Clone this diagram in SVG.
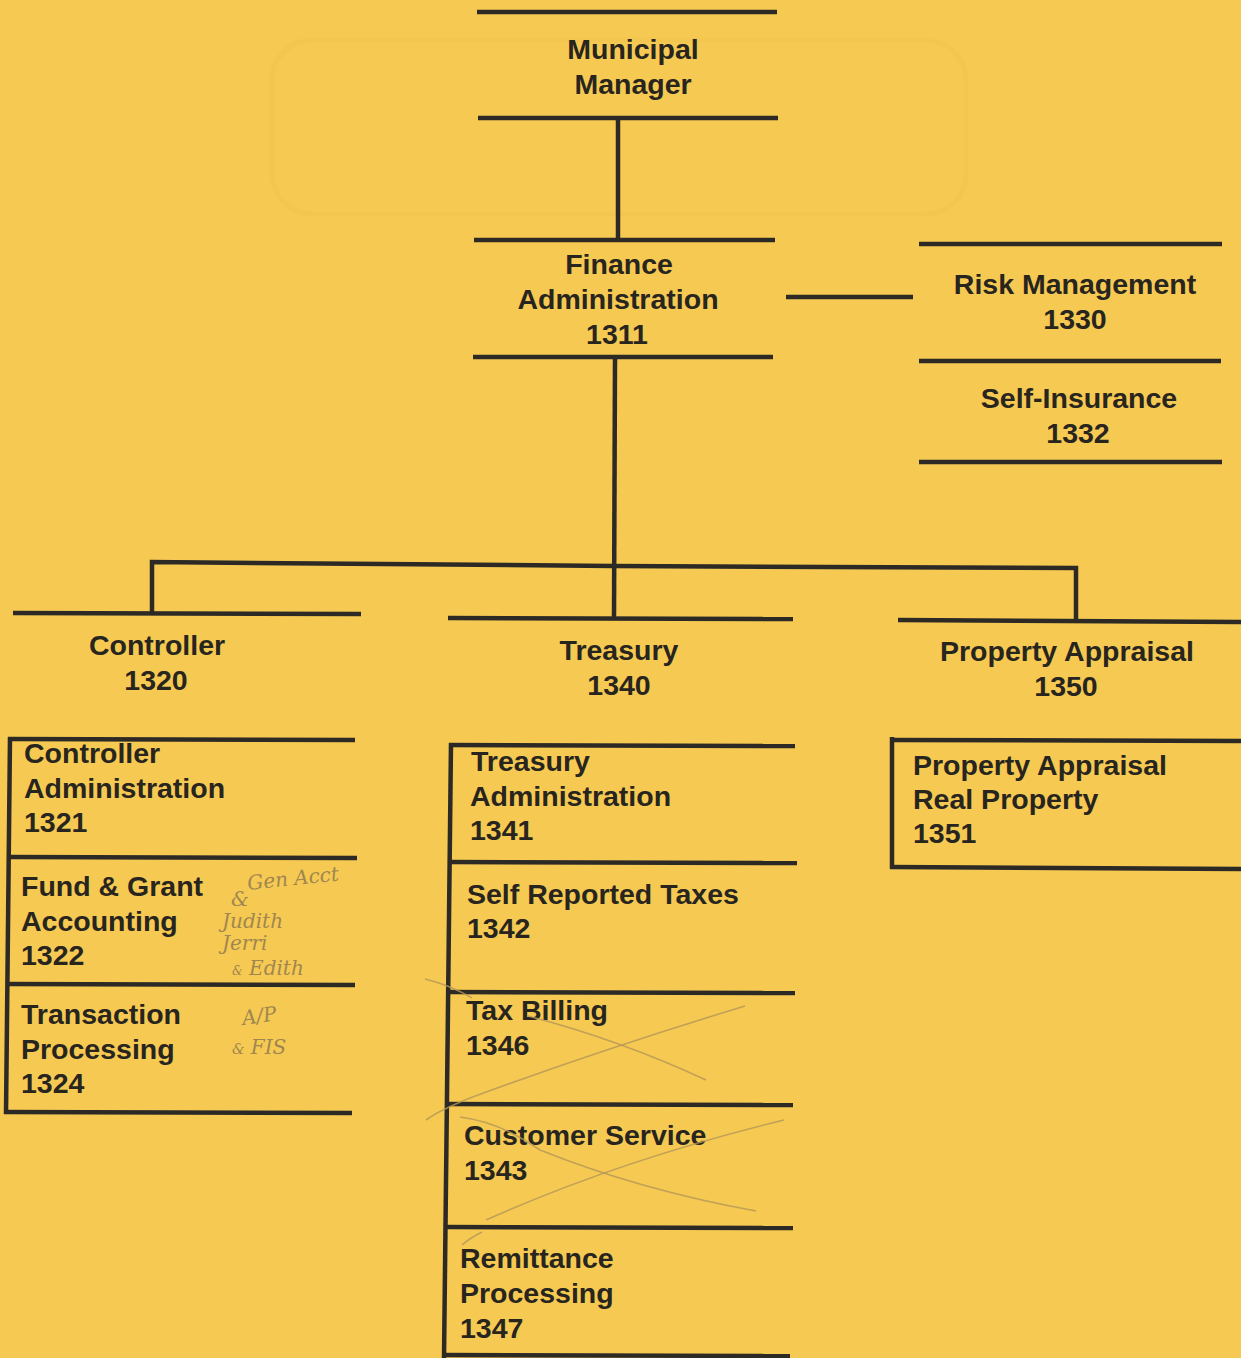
<svg xmlns="http://www.w3.org/2000/svg" width="1241" height="1358" viewBox="0 0 1241 1358">
<style>
.t{font-family:"Liberation Sans",Arial,sans-serif;font-weight:bold;font-size:28.5px;fill:#28251f}
.c{text-anchor:middle}
.ln{stroke:#2d2a26;stroke-width:4.5;fill:none;stroke-linecap:butt}
.hw{font-family:"DejaVu Serif","Liberation Serif",serif;font-style:italic;font-size:20px;fill:#a08650}
.pen{stroke:#b39658;stroke-width:1.6;fill:none;opacity:0.8}
</style>
<rect x="0" y="0" width="1241" height="1358" fill="#F6CA52"/>
<rect x="272" y="40" width="694" height="174" rx="40" fill="none" stroke="#EFC24E" stroke-width="5" opacity="0.45"/>

<g id="connectors">
<line class="ln" x1="618" y1="118" x2="618" y2="240"/>
<line class="ln" x1="786" y1="297" x2="913" y2="297"/>
<line class="ln" x1="615" y1="357" x2="614" y2="619"/>
<polyline class="ln" points="152,613 152,562 613,566 1076,568 1076,621"/>
</g>

<g id="municipal-manager">
<line class="ln" x1="477" y1="12" x2="777" y2="12"/>
<line class="ln" x1="478" y1="118" x2="778" y2="118"/>
<text class="t c" x="633" y="59">Municipal</text>
<text class="t c" x="633" y="94">Manager</text>
</g>

<g id="finance-administration">
<line class="ln" x1="474" y1="240" x2="775" y2="240"/>
<line class="ln" x1="473" y1="357" x2="773" y2="357"/>
<text class="t c" x="619" y="274">Finance</text>
<text class="t c" x="618" y="309">Administration</text>
<text class="t c" x="617" y="344">1311</text>
</g>

<g id="risk-management">
<line class="ln" x1="919" y1="244" x2="1222" y2="244"/>
<line class="ln" x1="919" y1="361" x2="1221" y2="361"/>
<text class="t c" x="1075" y="294">Risk Management</text>
<text class="t c" x="1075" y="329">1330</text>
</g>

<g id="self-insurance">
<line class="ln" x1="919" y1="462" x2="1222" y2="462"/>
<text class="t c" x="1079" y="408">Self-Insurance</text>
<text class="t c" x="1078" y="443">1332</text>
</g>

<g id="controller">
<line class="ln" x1="13" y1="613" x2="361" y2="614"/>
<text class="t c" x="157" y="655">Controller</text>
<text class="t c" x="156" y="690">1320</text>
</g>

<g id="treasury">
<line class="ln" x1="448" y1="618" x2="793" y2="619"/>
<text class="t c" x="619" y="660">Treasury</text>
<text class="t c" x="619" y="695">1340</text>
</g>

<g id="property-appraisal">
<line class="ln" x1="898" y1="620" x2="1241" y2="622"/>
<text class="t c" x="1067" y="661">Property Appraisal</text>
<text class="t c" x="1066" y="696">1350</text>
</g>

<g id="controller-units">
<line class="ln" x1="10" y1="737" x2="6" y2="1114"/>
<line class="ln" x1="8" y1="739" x2="355" y2="740"/>
<line class="ln" x1="8" y1="857" x2="357" y2="858"/>
<line class="ln" x1="6" y1="984" x2="355" y2="985"/>
<line class="ln" x1="4" y1="1112" x2="352" y2="1113"/>
</g>
<g id="controller-administration">
<text class="t" x="24" y="763">Controller</text>
<text class="t" x="24" y="798">Administration</text>
<text class="t" x="24" y="832">1321</text>
</g>
<g id="fund-grant-accounting">
<text class="t" x="21" y="896">Fund &amp; Grant</text>
<text class="t" x="21" y="931">Accounting</text>
<text class="t" x="21" y="965">1322</text>
<text class="hw" x="248" y="890" transform="rotate(-6 248 890)">Gen Acct</text>
<text class="hw" x="231" y="906" font-size="12">&amp;</text>
<text class="hw" x="222" y="928">Judith</text>
<text class="hw" x="222" y="950" font-size="18">Jerri</text>
<text class="hw" x="232" y="975" font-size="18"><tspan font-size="12">&amp;</tspan> Edith</text>
</g>
<g id="transaction-processing">
<text class="t" x="21" y="1024">Transaction</text>
<text class="t" x="21" y="1059">Processing</text>
<text class="t" x="21" y="1093">1324</text>
<text class="hw" x="243" y="1025" transform="rotate(-8 243 1025)">A/P</text>
<text class="hw" x="232" y="1054"><tspan font-size="14">&amp;</tspan> FIS</text>
</g>

<g id="treasury-units">
<line class="ln" x1="451" y1="743" x2="444" y2="1358"/>
<line class="ln" x1="449" y1="745" x2="795" y2="746"/>
<line class="ln" x1="449" y1="862" x2="797" y2="863"/>
<line class="ln" x1="448" y1="992" x2="795" y2="993"/>
<line class="ln" x1="447" y1="1104" x2="793" y2="1105"/>
<line class="ln" x1="446" y1="1227" x2="793" y2="1228"/>
<line class="ln" x1="444" y1="1355" x2="790" y2="1356"/>
</g>
<g id="treasury-administration">
<text class="t" x="471" y="771">Treasury</text>
<text class="t" x="470" y="806">Administration</text>
<text class="t" x="470" y="840">1341</text>
</g>
<g id="self-reported-taxes">
<text class="t" x="467" y="904">Self Reported Taxes</text>
<text class="t" x="467" y="938">1342</text>
</g>
<g id="tax-billing">
<text class="t" x="466" y="1020">Tax Billing</text>
<text class="t" x="466" y="1055">1346</text>
<path class="pen" d="M425,979 Q450,985 472,998 M426,1120 Q440,1110 470,1098 Q600,1050 745,1006"/>
<path class="pen" d="M528,1016 Q620,1040 706,1080"/>
</g>
<g id="customer-service">
<text class="t" x="464" y="1145">Customer Service</text>
<text class="t" x="464" y="1180">1343</text>
<path class="pen" d="M460,1117 Q500,1122 540,1150 Q640,1190 756,1211"/>
<path class="pen" d="M486,1220 Q620,1160 784,1120 M462,1245 Q470,1238 482,1232"/>
</g>
<g id="remittance-processing">
<text class="t" x="460" y="1268">Remittance</text>
<text class="t" x="460" y="1303">Processing</text>
<text class="t" x="460" y="1338">1347</text>
</g>

<g id="property-appraisal-units">
<line class="ln" x1="892" y1="737" x2="892" y2="869"/>
<line class="ln" x1="890" y1="740" x2="1241" y2="741"/>
<line class="ln" x1="890" y1="867" x2="1241" y2="869"/>
</g>
<g id="property-appraisal-real-property">
<text class="t" x="913" y="775">Property Appraisal</text>
<text class="t" x="913" y="809">Real Property</text>
<text class="t" x="913" y="843">1351</text>
</g>
</svg>
